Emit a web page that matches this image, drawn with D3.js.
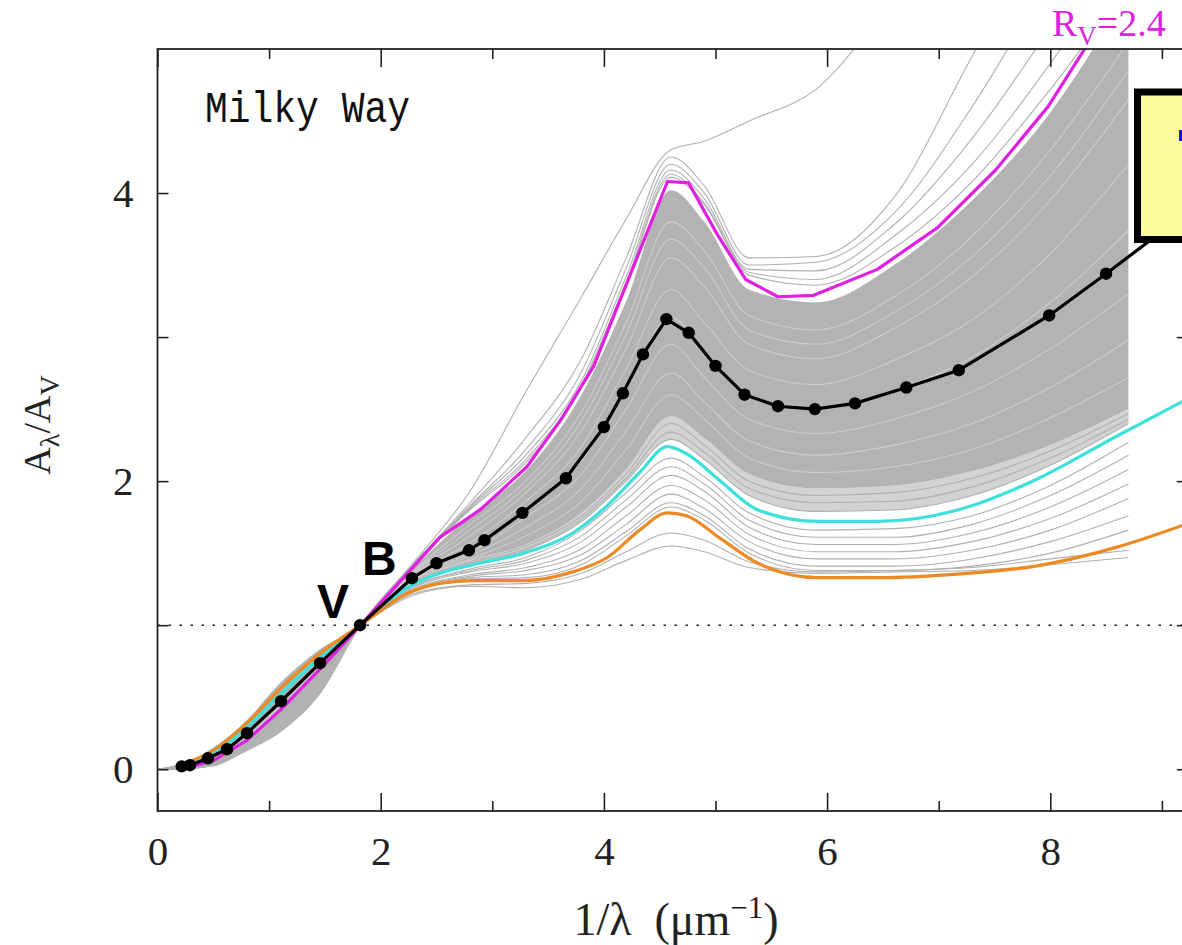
<!DOCTYPE html>
<html><head><meta charset="utf-8">
<script src="https://cdn.jsdelivr.net/npm/d3@7"></script>
<style>html,body{margin:0;padding:0;background:#fff;}</style>
</head><body>
<script>
// ---------------- DATA ----------------
const xMajorTicks = [0, 2, 4, 6, 8];
const xMinorTicks = [1, 3, 5, 7, 9];
const yTicks = [0, 1, 2, 3, 4];
const yLabelTicks = [0, 2, 4];

// grid of 1/lambda nodes for the grey individual sightline curves
const grayX = [0.0, 0.2, 0.5, 0.8, 1.1, 1.45, 1.82, 2.3, 2.8, 3.3, 3.8, 4.2, 4.6, 4.9, 5.3, 5.9, 6.6, 7.3, 8.0, 8.7];
// dense core of the grey curves (lower / upper edge)
const bandLow  = [0.0, 0.0, 0.02, 0.13, 0.26, 0.52, 1.0, 1.30, 1.45, 1.56, 1.78, 2.08, 2.45, 2.30, 2.05, 1.95, 1.97, 2.07, 2.25, 2.50];
const bandHigh = [0.0, 0.03, 0.15, 0.34, 0.60, 0.83, 1.0, 1.40, 1.76, 2.07, 2.60, 3.25, 4.02, 3.80, 3.33, 3.24, 3.50, 3.95, 4.56, 5.40];
// lighter, sparser part of the grey curves just below the core
const fadeLow  = [0.0, 0.02, 0.10, 0.28, 0.51, 0.76, 1.0, 1.29, 1.42, 1.52, 1.72, 2.00, 2.29, 2.15, 1.90, 1.79, 1.80, 1.90, 2.11, 2.40];
// individual grey curves outside / at edge of the core
const grayTop1 = [0.0, 0.0, 0.03, 0.13, 0.26, 0.52, 1.0, 1.44, 1.93, 2.62, 3.28, 3.82, 4.30, 4.36, 4.50, 4.72, 5.35, 6.0, 6.8, 7.6];
const grayTop2 = [0.0, 0.0, 0.04, 0.16, 0.35, 0.62, 1.0, 1.43, 1.85, 2.30, 2.85, 3.55, 4.25, 4.05, 3.55, 3.56, 3.97, 4.95, 5.90, 6.80];
const grayTop3 = [0.0, 0.0, 0.04, 0.17, 0.37, 0.64, 1.0, 1.43, 1.83, 2.22, 2.76, 3.48, 4.20, 4.00, 3.50, 3.52, 3.86, 4.60, 5.50, 6.40];
const grayTop4 = [0.0, 0.0, 0.05, 0.18, 0.38, 0.66, 1.0, 1.42, 1.82, 2.18, 2.70, 3.42, 4.16, 3.96, 3.47, 3.46, 3.78, 4.38, 5.15, 6.00];
const grayTop5 = [0.0, 0.0, 0.05, 0.19, 0.40, 0.68, 1.0, 1.42, 1.81, 2.15, 2.67, 3.38, 4.13, 3.93, 3.45, 3.40, 3.70, 4.20, 4.90, 5.70];
const grayTop6 = [0.0, 0.0, 0.05, 0.19, 0.40, 0.68, 1.0, 1.42, 1.80, 2.13, 2.65, 3.36, 4.11, 3.92, 3.43, 3.36, 3.62, 4.08, 4.72, 5.45];
const grayLow1  = [0.0, 0.01, 0.09, 0.26, 0.48, 0.74, 1.0, 1.30, 1.44, 1.55, 1.76, 2.05, 2.40, 2.25, 2.00, 1.90, 1.92, 2.02, 2.21, 2.47];
const grayLow2  = [0.0, 0.01, 0.10, 0.27, 0.50, 0.75, 1.0, 1.29, 1.43, 1.53, 1.74, 2.02, 2.34, 2.20, 1.95, 1.85, 1.86, 1.96, 2.16, 2.43];
const grayLow3  = [0.0, 0.02, 0.10, 0.28, 0.51, 0.76, 1.0, 1.29, 1.42, 1.52, 1.72, 2.00, 2.29, 2.15, 1.90, 1.79, 1.80, 1.90, 2.11, 2.40];
const grayLow4  = [0.0, 0.02, 0.11, 0.29, 0.52, 0.77, 1.0, 1.27, 1.39, 1.47, 1.66, 1.92, 2.16, 2.03, 1.78, 1.66, 1.67, 1.76, 1.97, 2.27];
const grayLow5  = [0.0, 0.02, 0.11, 0.30, 0.53, 0.78, 1.0, 1.27, 1.38, 1.45, 1.62, 1.87, 2.10, 1.98, 1.73, 1.61, 1.61, 1.70, 1.90, 2.18];
const grayLow6  = [0.0, 0.02, 0.12, 0.30, 0.54, 0.78, 1.0, 1.26, 1.37, 1.43, 1.58, 1.82, 2.04, 1.93, 1.68, 1.56, 1.56, 1.64, 1.82, 2.08];
const grayLow7  = [0.0, 0.02, 0.12, 0.31, 0.54, 0.79, 1.0, 1.25, 1.35, 1.40, 1.53, 1.76, 1.97, 1.87, 1.63, 1.51, 1.51, 1.58, 1.74, 1.98];
const grayLow8  = [0.0, 0.02, 0.12, 0.31, 0.55, 0.79, 1.0, 1.25, 1.34, 1.38, 1.49, 1.70, 1.91, 1.81, 1.58, 1.46, 1.46, 1.52, 1.66, 1.88];
const grayLow9  = [0.0, 0.03, 0.13, 0.32, 0.55, 0.80, 1.0, 1.24, 1.33, 1.35, 1.45, 1.65, 1.85, 1.76, 1.53, 1.41, 1.41, 1.46, 1.58, 1.76];
const grayLow10 = [0.0, 0.03, 0.13, 0.32, 0.56, 0.80, 1.0, 1.24, 1.32, 1.33, 1.42, 1.62, 1.82, 1.73, 1.50, 1.38, 1.38, 1.41, 1.50, 1.66];
const grayLow11 = [0.0, 0.03, 0.13, 0.33, 0.57, 0.81, 1.0, 1.21, 1.27, 1.26, 1.32, 1.45, 1.55, 1.51, 1.40, 1.36, 1.37, 1.38, 1.42, 1.47];
const grayLow12 = [0.0, 0.03, 0.13, 0.33, 0.57, 0.81, 1.0, 1.22, 1.28, 1.29, 1.36, 1.51, 1.64, 1.59, 1.44, 1.37, 1.38, 1.40, 1.46, 1.52];
// light streaks inside the dense core
const streak1 = [0.0, 0.01, 0.06, 0.20, 0.40, 0.68, 1.0, 1.38, 1.70, 2.00, 2.48, 3.10, 3.80, 3.60, 3.15, 3.05, 3.28, 3.70, 4.30, 5.05];
const streak2 = [0.0, 0.01, 0.07, 0.21, 0.42, 0.70, 1.0, 1.36, 1.62, 1.92, 2.35, 2.92, 3.55, 3.35, 2.95, 2.85, 3.06, 3.42, 3.95, 4.65];
const streak3 = [0.0, 0.01, 0.08, 0.23, 0.44, 0.71, 1.0, 1.35, 1.57, 1.86, 2.24, 2.78, 3.33, 3.10, 2.77, 2.67, 2.84, 3.12, 3.58, 4.20];
const streak4 = [0.0, 0.01, 0.08, 0.24, 0.46, 0.72, 1.0, 1.33, 1.50, 1.75, 2.05, 2.50, 2.95, 2.72, 2.43, 2.33, 2.43, 2.62, 2.92, 3.30];
const streak5 = [0.0, 0.01, 0.09, 0.25, 0.47, 0.73, 1.0, 1.32, 1.48, 1.68, 1.95, 2.35, 2.75, 2.55, 2.28, 2.18, 2.25, 2.40, 2.65, 2.98];
const streak6 = [0.0, 0.01, 0.09, 0.26, 0.48, 0.74, 1.0, 1.31, 1.46, 1.62, 1.86, 2.22, 2.60, 2.43, 2.16, 2.06, 2.10, 2.22, 2.44, 2.72];
const streak7 = [0.0, 0.01, 0.07, 0.22, 0.43, 0.70, 1.0, 1.37, 1.66, 1.96, 2.42, 3.02, 3.68, 3.48, 3.05, 2.95, 3.17, 3.56, 4.12, 4.85];
const streak8 = [0.0, 0.01, 0.09, 0.25, 0.47, 0.73, 1.0, 1.34, 1.53, 1.80, 2.14, 2.64, 3.14, 2.90, 2.60, 2.50, 2.63, 2.86, 3.24, 3.74];

// R_V = 2.4 curve (magenta)
const rv24X = [0.2, 0.5, 0.8, 1.1, 1.45, 1.82, 2.24, 2.53, 2.89, 3.31, 3.61, 3.91, 4.26, 4.57, 4.76, 5.01, 5.27, 5.56, 5.88, 6.45, 6.99, 7.51, 7.98, 8.30, 8.60];
const rv24Y = [0.0, 0.06, 0.20, 0.41, 0.69, 1.0, 1.36, 1.61, 1.80, 2.10, 2.42, 2.80, 3.48, 4.08, 4.07, 3.72, 3.40, 3.28, 3.29, 3.47, 3.76, 4.16, 4.60, 4.99, 5.40];
// mean curve with points (black)
const meanX = [0.217, 0.291, 0.452, 0.623, 0.802, 1.107, 1.456, 1.815, 2.28, 2.50, 2.79, 2.93, 3.27, 3.66, 4.00, 4.17, 4.35, 4.56, 4.76, 5.00, 5.26, 5.56, 5.89, 6.25, 6.71, 7.18, 7.99, 8.50];
const meanY = [0.02, 0.028, 0.076, 0.139, 0.25, 0.472, 0.736, 1.0, 1.326, 1.43, 1.52, 1.59, 1.78, 2.02, 2.375, 2.61, 2.88, 3.125, 3.03, 2.80, 2.60, 2.52, 2.50, 2.54, 2.65, 2.77, 3.15, 3.44];
const meanTailX = [8.50, 9.25];
const meanTailY = [3.44, 3.88];
// cyan and orange curves
const smoothX = [0.2, 0.5, 0.8, 1.1, 1.45, 1.82, 2.24, 2.53, 2.83, 3.28, 3.72, 4.03, 4.32, 4.57, 4.74, 5.03, 5.38, 5.92, 6.45, 7.17, 7.87, 8.59, 9.25];
const cyanY   = [0.02, 0.11, 0.29, 0.52, 0.77, 1.0, 1.26, 1.36, 1.42, 1.50, 1.64, 1.83, 2.06, 2.24, 2.19, 2.01, 1.80, 1.72, 1.72, 1.80, 2.01, 2.31, 2.58];
const orangeY = [0.03, 0.13, 0.32, 0.56, 0.80, 1.0, 1.22, 1.29, 1.31, 1.31, 1.37, 1.47, 1.66, 1.78, 1.76, 1.61, 1.43, 1.33, 1.33, 1.355, 1.41, 1.54, 1.71];

// ---------------- DRAWING ----------------
const W = 1182, H = 945;
const svg = d3.select("body").append("svg").attr("width", W).attr("height", H)
  .style("font-family", "'Liberation Serif', serif");

const x = d3.scaleLinear().domain([0, 9.25]).range([157.5, 1189.8]);
const y = d3.scaleLinear().domain([-0.29, 5.0]).range([811, 49]);
const L = x.range()[0], R = x.range()[1], T = y.range()[1], B = y.range()[0];

svg.append("defs").append("clipPath").attr("id", "plotclip")
  .append("rect").attr("x", L).attr("y", T).attr("width", R - L).attr("height", B - T);
const plot = svg.append("g").attr("clip-path", "url(#plotclip)");

const zipXY = (xs, ys) => xs.map((v, i) => [v, ys[i]]);
const smoothLine = d3.line().x(d => x(d[0])).y(d => y(d[1])).curve(d3.curveMonotoneX);
const polyLine = d3.line().x(d => x(d[0])).y(d => y(d[1]));
const areaBetween = (lo, hi) => d3.area().x((d, i) => x(grayX[i])).y0((d, i) => y(lo[i])).y1((d, i) => y(hi[i])).curve(d3.curveMonotoneX)(grayX);

// faded lower part and dense grey core
plot.append("path").attr("d", areaBetween(fadeLow, bandLow)).attr("fill", "#d2d2d2");
plot.append("path").attr("d", areaBetween(bandLow, bandHigh)).attr("fill", "#b3b3b3");

const streaks = [streak1, streak7, streak2, streak3, streak8, streak4, streak5, streak6];
streaks.forEach(s => plot.append("path").attr("d", smoothLine(zipXY(grayX, s)))
  .attr("fill", "none").attr("stroke", "#cdcdcd").attr("stroke-width", 1.1));

const grays = [grayTop1, grayTop2, grayTop3, grayTop4, grayTop5, grayTop6,
  grayLow1, grayLow2, grayLow3, grayLow4, grayLow5, grayLow6, grayLow7, grayLow8, grayLow9, grayLow10, grayLow11, grayLow12];
grays.forEach(s => plot.append("path").attr("d", smoothLine(zipXY(grayX, s)))
  .attr("fill", "none").attr("stroke", "#b0b0b0").attr("stroke-width", 1.1));

// dotted A_lambda/A_V = 1 line
plot.append("line").attr("x1", L).attr("x2", R).attr("y1", y(1)).attr("y2", y(1))
  .attr("stroke", "#222").attr("stroke-width", 1.6).attr("stroke-dasharray", "2.5,8.5");

// coloured curves
plot.append("path").attr("d", smoothLine(zipXY(smoothX, cyanY)))
  .attr("fill", "none").attr("stroke", "#3ee0dc").attr("stroke-width", 3.2);
plot.append("path").attr("d", smoothLine(zipXY(smoothX, orangeY)))
  .attr("fill", "none").attr("stroke", "#ee8a24").attr("stroke-width", 3.2);
plot.append("path").attr("d", polyLine(zipXY(rv24X, rv24Y)))
  .attr("fill", "none").attr("stroke", "#e020e0").attr("stroke-width", 3.2).attr("stroke-linejoin", "round");
plot.append("path").attr("d", polyLine(zipXY(meanX, meanY).concat(zipXY(meanTailX, meanTailY).slice(1))))
  .attr("fill", "none").attr("stroke", "#000").attr("stroke-width", 3.2).attr("stroke-linejoin", "round");
plot.selectAll("circle.mean").data(zipXY(meanX, meanY)).join("circle")
  .attr("class", "mean").attr("cx", d => x(d[0])).attr("cy", d => y(d[1])).attr("r", 6.2).attr("fill", "#000");

// ---------------- AXES ----------------
const axisColor = "#222";
function styleAxis(g) {
  g.selectAll(".tick line").attr("stroke", axisColor).attr("stroke-width", 1.6);
  g.select(".domain").remove();
  g.selectAll("text").attr("fill", "#222").style("font-family", "'Liberation Serif', serif").style("font-size", "41px");
}
svg.append("g").attr("transform", `translate(0,${B})`)
  .call(d3.axisBottom(x).tickValues(xMajorTicks).tickSize(-18).tickSizeOuter(0).tickPadding(25).tickFormat(d3.format("d")))
  .call(styleAxis);
svg.append("g").attr("transform", `translate(0,${B})`)
  .call(d3.axisBottom(x).tickValues(xMinorTicks).tickSize(-10).tickSizeOuter(0).tickFormat(""))
  .call(styleAxis);
svg.append("g").attr("transform", `translate(0,${T})`)
  .call(d3.axisTop(x).tickValues(xMajorTicks).tickSize(-18).tickSizeOuter(0).tickFormat(""))
  .call(styleAxis);
svg.append("g").attr("transform", `translate(0,${T})`)
  .call(d3.axisTop(x).tickValues(xMinorTicks).tickSize(-10).tickSizeOuter(0).tickFormat(""))
  .call(styleAxis);
svg.append("g").attr("transform", `translate(${L},0)`)
  .call(d3.axisLeft(y).tickValues(yTicks).tickSize(-11).tickSizeOuter(0).tickPadding(24)
    .tickFormat(d => yLabelTicks.includes(d) ? d3.format("d")(d) : ""))
  .call(styleAxis);
svg.append("g").attr("transform", `translate(${R},0)`)
  .call(d3.axisRight(y).tickValues(yTicks).tickSize(-13).tickSizeOuter(0).tickFormat(""))
  .call(styleAxis);
svg.append("rect").attr("x", L).attr("y", T).attr("width", R - L).attr("height", B - T)
  .attr("fill", "none").attr("stroke", axisColor).attr("stroke-width", 1.8);

// axis titles
const xt = svg.append("text").attr("x", 676).attr("y", 935).attr("text-anchor", "middle")
  .style("font-size", "46px").attr("fill", "#222").attr("xml:space", "preserve").style("white-space", "pre");
xt.append("tspan").text("1/λ  (μm");
xt.append("tspan").attr("dy", -17).style("font-size", "31px").text("−1");
xt.append("tspan").attr("dy", 17).text(")");

const yt = svg.append("text").attr("transform", "translate(50,425) rotate(-90)").attr("text-anchor", "middle")
  .style("font-size", "38px").attr("fill", "#222");
yt.append("tspan").text("A");
yt.append("tspan").attr("dy", 9).style("font-size", "28px").text("λ");
yt.append("tspan").attr("dy", -9).text("/A");
yt.append("tspan").attr("dy", 9).style("font-size", "28px").text("V");

// annotations
svg.append("text").attr("x", 205).attr("y", 122).attr("textLength", 205).attr("lengthAdjust", "spacingAndGlyphs")
  .style("font-family", "'Liberation Mono', monospace").style("font-size", "44px").attr("fill", "#111").text("Milky Way");
svg.append("text").attr("x", 317).attr("y", 618)
  .style("font-family", "'Liberation Sans', Arial, sans-serif").style("font-weight", "bold").style("font-size", "48px").attr("fill", "#000").text("V");
svg.append("text").attr("x", 362).attr("y", 575)
  .style("font-family", "'Liberation Sans', Arial, sans-serif").style("font-weight", "bold").style("font-size", "48px").attr("fill", "#000").text("B");

const rl = svg.append("text").attr("x", 1052).attr("y", 36).style("font-size", "38px").attr("fill", "#e020e0");
rl.append("tspan").text("R");
rl.append("tspan").attr("dy", 9).style("font-size", "27px").text("V");
rl.append("tspan").attr("dy", -9).text("=2.4");

// legend box (cut off at the right edge)
svg.append("rect").attr("x", 1137.5).attr("y", 92).attr("width", 120).attr("height", 147.5)
  .attr("fill", "#fcfa9e").attr("stroke", "#000").attr("stroke-width", 7);
svg.append("rect").attr("x", 1179).attr("y", 130).attr("width", 12).attr("height", 11).attr("fill", "#1414e6");
</script>
</body></html>
